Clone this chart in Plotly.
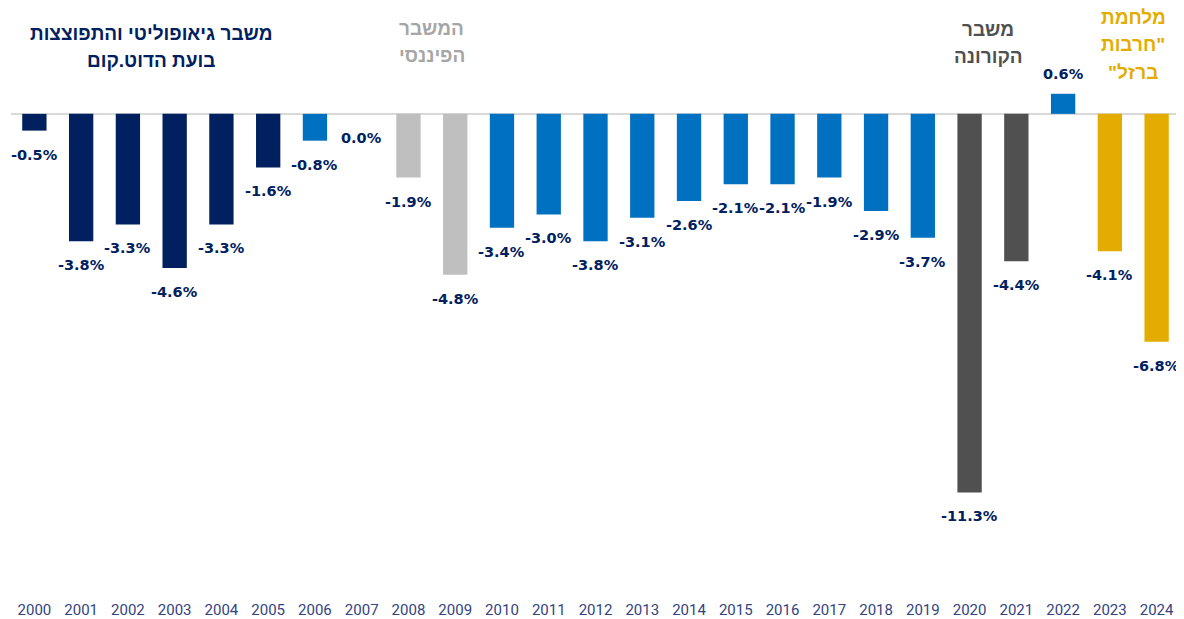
import plotly.graph_objects as go

years = [str(y) for y in range(2000, 2025)]
values = [-0.5, -3.8, -3.3, -4.6, -3.3, -1.6, -0.8, 0.0, -1.9, -4.8,
          -3.4, -3.0, -3.8, -3.1, -2.6, -2.1, -2.1, -1.9, -2.9, -3.7,
          -11.3, -4.4, 0.6, -4.1, -6.8]
groups = ["dotcom"] * 6 + ["normal", "normal", "financial", "financial"] + ["normal"] * 10 + \
         ["corona", "corona", "normal", "war", "war"]

group_colors = {
    "dotcom": "#002060",
    "normal": "#0070C0",
    "financial": "#BFBFBF",
    "corona": "#505050",
    "war": "#E5AC00",
}

# event titles: (lines, x index center, color)
titles = [
    (["משבר גיאופוליטי והתפוצצות", "בועת הדוט.קום"], 2.5, "#002060"),
    (["המשבר", "הפיננסי"], 8.5, "#A6A6A6"),
    (["משבר", "הקורונה"], 20.4, "#505050"),
    (["מלחמת", "חרבות\"", "\"ברזל"], 23.5, "#E5AC00"),
]
title_tops = [33, 28, 29, 17]

LABEL_COLOR = "#002060"
TICK_COLOR = "#34447F"

# page body has an 8px margin; figure is sized to fill the rest
OFF = 8
FIG_W, FIG_H = 1176, 611
M_L, M_R, M_T, M_B = 3, 4, 0, 24
PLOT_H = FIG_H - M_T - M_B

fig = go.Figure()
fig.add_trace(go.Bar(
    x=years, y=values,
    marker=dict(color=[group_colors[g] for g in groups], line=dict(width=0)),
    width=0.52,
    hoverinfo="x+y",
))

annotations = []
for i, v in enumerate(values):
    annotations.append(dict(
        x=i, y=v, xref="x", yref="y",
        text=f"{v:.1f}%", showarrow=False,
        yshift=(20 if v > 0 else -24),
        font=dict(family="DejaVu Sans", size=14.5, color=LABEL_COLOR, weight="bold"),
        xanchor="center", yanchor="middle",
    ))

for (lines, xc, col), top in zip(titles, title_tops):
    for i, line in enumerate(lines):
        py = top + i * 28 - OFF
        annotations.append(dict(
            x=xc, y=1 - py / PLOT_H, xref="x", yref="paper",
            text=line, showarrow=False,
            font=dict(family="Liberation Sans", size=19, color=col, weight="bold"),
            xanchor="center", yanchor="middle",
        ))

fig.update_layout(
    width=FIG_W, height=FIG_H,
    margin=dict(l=M_L, r=M_R, t=M_T, b=M_B),
    plot_bgcolor="white", paper_bgcolor="white",
    showlegend=False,
    annotations=annotations,
    xaxis=dict(
        type="category", showgrid=False, showline=False, zeroline=False,
        ticks="", range=[-0.5, 24.5],
        tickfont=dict(family="Roboto", size=15, color=TICK_COLOR),
        ticklabelstandoff=4,
    ),
    yaxis=dict(
        range=[-14.36, 3.16], showgrid=False, showticklabels=False,
        zeroline=True, zerolinecolor="#D9D9D9", zerolinewidth=2,
        showline=False, ticks="",
    ),
)

fig.write_html("out.html")
